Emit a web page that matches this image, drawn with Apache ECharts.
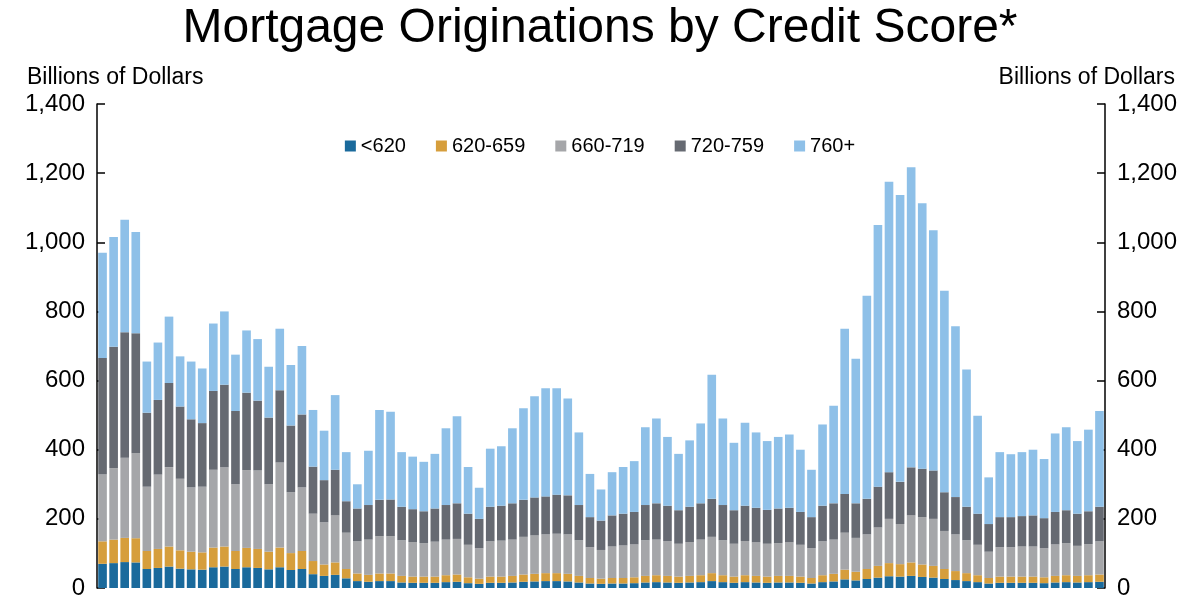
<!DOCTYPE html>
<html><head><meta charset="utf-8">
<script src="https://cdn.jsdelivr.net/npm/echarts@6/dist/echarts.min.js"></script>
<style>html,body{margin:0;padding:0;background:#fff}#c{width:1200px;height:600px}</style>
</head><body><div id="c"></div>
<script>
// quarterly bars, 91 of them
const categories = Array.from({length:91},(_,i)=>String(2003+Math.floor(i/4))+'Q'+(i%4+1));
// cumulative tops (billions)
const total = [970,1015,1065,1030,655,710,785,670,655,635,765,800,675,745,720,640,750,645,700,515,455,558,393,300,397,515,510,393,380,365,388,462,497,350,290,403,410,462,520,555,578,578,548,450,330,285,335,350,367,465,490,437,388,427,476,617,490,420,478,450,425,437,444,400,342,473,527,750,663,845,1050,1175,1137,1217,1113,1035,860,757,632,498,320,393,387,393,400,373,447,465,425,458,512];
const top759 = [665,698,740,737,507,544,593,525,488,477,570,588,512,565,542,493,572,470,502,351,312,342,251,230,240,255,256,235,228,222,230,240,245,215,200,235,238,245,255,262,265,270,268,240,205,195,210,215,220,240,245,238,225,235,245,258,240,225,238,232,226,230,232,220,205,238,245,272,245,258,293,335,307,349,345,340,277,263,235,215,185,205,205,208,210,202,220,225,215,222,235];
const top719 = [328,347,377,390,293,328,349,316,291,293,342,349,300,341,340,300,363,277,291,215,190,210,160,135,140,150,150,138,133,130,134,140,142,125,115,135,137,140,148,152,155,157,155,138,118,110,120,123,126,138,140,136,128,133,140,148,138,128,136,132,128,130,132,125,115,135,140,160,145,155,175,200,185,210,205,200,165,155,138,125,105,118,118,120,120,115,126,130,122,127,135];
const v620 = [70,72,75,74,55,58,62,56,54,53,60,62,55,60,58,54,60,52,55,40,35,38,28,20,18,20,20,16,15,15,15,17,18,14,12,15,15,16,18,19,20,20,19,16,13,12,13,13,14,16,17,16,15,16,17,20,17,15,17,16,15,16,16,15,13,17,19,25,22,26,30,34,33,35,32,30,26,23,20,17,13,15,15,15,15,14,16,17,16,17,18];
const v659 = [65,68,70,70,52,55,58,53,51,50,57,58,52,56,55,51,57,49,52,38,33,36,27,22,20,22,22,19,18,18,18,20,21,17,15,18,18,19,21,22,23,23,22,19,16,15,16,16,17,19,20,19,18,19,20,23,20,18,20,19,18,19,19,18,16,20,22,28,25,29,34,38,36,39,36,34,29,26,23,20,16,18,18,18,18,17,19,20,19,20,21];
const yTicks = [0,200,400,600,800,1000,1200,1400];

const s719 = top719.map((t,i)=>t-v620[i]-v659[i]);
const s759 = top759.map((t,i)=>t-top719[i]);
const s760 = total.map((t,i)=>t-top759[i]);
const names = ['<620','620-659','660-719','720-759','760+'];
const colors = ['#1a6a9c','#d69e3c','#a5a6a9','#666a72','#8ec0e8'];
const datas = [v620,v659,s719,s759,s760];
const fmt = v=>v.toLocaleString('en-US');
const yax = (pos)=>({type:'value',position:pos,min:yTicks[0],max:yTicks[yTicks.length-1],interval:200,
  axisLine:{show:true,lineStyle:{color:'#000',width:1.5}},axisTick:{show:true,inside:true,length:8,lineStyle:{color:'#000',width:1.5}},
  splitLine:{show:false},axisLabel:{color:'#000',fontSize:24,fontFamily:'Liberation Sans',formatter:fmt,margin:12}});
const chart = echarts.init(document.getElementById('c'));
chart.setOption({
  animation:false,
  title:{text:'Mortgage Originations by Credit Score*',left:'center',top:0,textStyle:{fontSize:48,fontWeight:'normal',color:'#000',fontFamily:'Liberation Sans'}},
  graphic:[
    {type:'text',left:27,top:66,style:{text:'Billions of Dollars',fontSize:23,fill:'#000',fontFamily:'Liberation Sans'}},
    {type:'text',right:25,top:66,style:{text:'Billions of Dollars',fontSize:23,fill:'#000',fontFamily:'Liberation Sans'}}
  ],
  legend:{data:names,top:131,left:'center',itemWidth:11,itemHeight:11,itemGap:30,icon:'rect',textStyle:{fontSize:20,color:'#000',fontFamily:'Liberation Sans'}},
  grid:{left:97,top:104,width:1008,height:602,containLabel:false},
  xAxis:{type:'category',data:categories,show:false},
  yAxis:[yax('left'),yax('right')],
  series:datas.map((d,i)=>({name:names[i],type:'bar',stack:'a',data:d,barCategoryGap:'22%',itemStyle:{color:colors[i]}}))
});
</script></body></html>
